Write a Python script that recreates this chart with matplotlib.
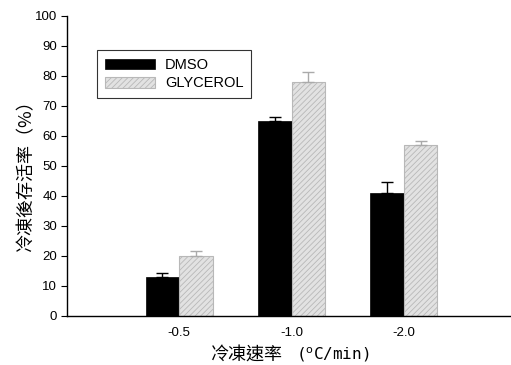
import matplotlib
matplotlib.use("Agg")
import matplotlib.pyplot as plt
import numpy as np

categories = ["-0.5", "-1.0", "-2.0"]
dmso = [13, 65, 41]
dmso_err = [1.2, 1.5, 3.6]
glycerol = [20, 78, 57]
glycerol_err = [1.6, 3.2, 1.5]
series_names = ["DMSO", "GLYCEROL"]

plt.rcParams['font.family'] = ['Liberation Sans', 'DejaVu Sans']
plt.rcParams['hatch.linewidth'] = 0.6

fig = plt.figure(figsize=(5.11, 3.65), dpi=100)
W, H = 511, 365
ax = fig.add_axes([67/W, (H-316)/H, (516-67)/W, 300/H])

x = np.arange(len(categories))
w = 0.30
ax.bar(x - w/2, dmso, w, color='black', edgecolor='black', linewidth=0.5,
       yerr=[np.zeros(3), dmso_err], error_kw=dict(ecolor='black', capsize=4, elinewidth=1, capthick=1),
       label=series_names[0])
ax.bar(x + w/2, glycerol, w, color='#e2e2e2', edgecolor='#b8b8b8', hatch='//////', linewidth=0.8,
       yerr=[np.zeros(3), glycerol_err], error_kw=dict(ecolor='#aaaaaa', capsize=4, elinewidth=1, capthick=1),
       label=series_names[1])

ax.set_xlim(-1, 3)
ax.set_ylim(0, 100)
ax.set_yticks(np.arange(0, 101, 10))
ax.set_xticks(x)
ax.set_xticklabels(categories, fontsize=9.5)
ax.tick_params(axis='x', length=0, pad=8)
ax.tick_params(axis='y', direction='out', length=4, labelsize=9.5, pad=3)
for s in ['top', 'right']:
    ax.spines[s].set_visible(False)
for s in ['left', 'bottom']:
    ax.spines[s].set_linewidth(1.0)

cjk = ['Noto Sans CJK TC', 'DejaVu Sans']
fig.text(26/W, 1 - 171/H, '冷凍後存活率（%）', family=cjk, fontsize=13, rotation=90,
         ha='center', va='center')
fig.text(211/W, 1 - 355/H, '冷凍速率', family=cjk, fontsize=13, ha='left', va='center')
fig.text(296/W, 1 - 355/H, '($^{\\rm o}$C/min)', family='DejaVu Sans Mono', fontsize=11.5,
         ha='left', va='center')

leg = ax.legend(loc='upper left', bbox_to_anchor=(30/449, (316-50)/300), fontsize=10.5,
                frameon=True, fancybox=False, edgecolor='black', handlelength=3.4,
                handleheight=0.75, borderpad=0.55, labelspacing=0.3, handletextpad=0.7,
                borderaxespad=0)
leg.get_frame().set_linewidth(0.8)

fig.savefig('out.png', dpi=100)
